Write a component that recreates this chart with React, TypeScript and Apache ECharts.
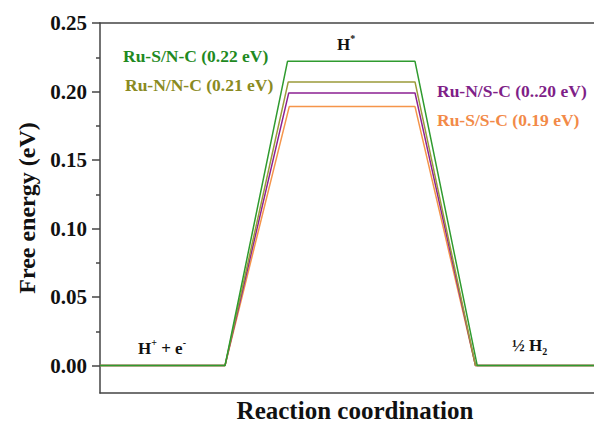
import React, { useEffect, useRef } from 'react';
import * as echarts from 'echarts';

// Series drawn from back to front (green on top)
const seriesNames = ['Ru-S/S-C', 'Ru-N/S-C', 'Ru-N/N-C', 'Ru-S/N-C'];
const seriesColors = ['#f5954a', '#8c2192', '#9b9b3a', '#2f9b2f'];
const hStarEnergy = [0.189, 0.199, 0.207, 0.222];
const rampStartX = [1.0, 1.0, 1.0, 1.0];
const rampTopX = [1.514, 1.51, 1.506, 1.5];
const plateauEndX = [2.52, 2.52, 2.52, 2.52];
const rampEndX = [3.004, 3.004, 3.004, 3.018];
const startX = 0;
const finalX = 3.952;

const yMin = -0.02;
const yMax = 0.25;
const yTicks = [0, 0.05, 0.1, 0.15, 0.2, 0.25];
const yMinorTicks = [0.025, 0.075, 0.125, 0.175, 0.225];

const annotationTexts = [
  'Ru-S/N-C (0.22 eV)',
  'Ru-N/N-C (0.21 eV)',
  'Ru-N/S-C (0..20 eV)',
  'Ru-S/S-C (0.19 eV)',
];
const annotationColors = ['#1f8a1f', '#8a8a22', '#7f1f88', '#f28a48'];

const FONT = '"Liberation Serif", "Times New Roman", serif';

export default function App() {
  const ref = useRef<HTMLDivElement>(null);

  useEffect(() => {
    if (!ref.current) return;
    const chart = echarts.init(ref.current, undefined, { renderer: 'svg' });

    const series = seriesNames.map((name, i) => ({
      name,
      type: 'line',
      showSymbol: false,
      symbol: 'none',
      xAxisIndex: 0,
      yAxisIndex: 0,
      z: 2 + i,
      lineStyle: { color: seriesColors[i], width: 1.5 },
      itemStyle: { color: seriesColors[i] },
      data: [
        [startX, 0],
        [rampStartX[i], 0],
        [rampTopX[i], hStarEnergy[i]],
        [plateauEndX[i], hStarEnergy[i]],
        [rampEndX[i], 0],
        [finalX, 0],
      ],
    }));

    const annoFont = (size: number) => ({
      fontFamily: FONT,
      fontWeight: 'bold',
      fontSize: size,
    });

    const annoPos = [
      [123, 56],
      [125, 85],
      [437, 91],
      [437, 120],
    ];

    const graphics: any[] = annotationTexts.map((t, i) => ({
      type: 'text',
      x: annoPos[i][0],
      y: annoPos[i][1],
      z: 100,
      style: {
        text: t,
        fill: annotationColors[i],
        ...annoFont(17.5),
        align: 'left',
        verticalAlign: 'middle',
      },
    }));

    const richBase = {
      b: { ...annoFont(17), fill: '#111', lineHeight: 22, verticalAlign: 'middle' },
      sup: { ...annoFont(10), fill: '#111', lineHeight: 10, verticalAlign: 'top' },
      sub: { ...annoFont(10), fill: '#111', lineHeight: 10, verticalAlign: 'bottom' },
    };

    graphics.push(
      {
        type: 'text',
        x: 337,
        y: 44,
        z: 100,
        style: {
          text: '{b|H}{sup|*}',
          rich: richBase,
          align: 'left',
          verticalAlign: 'middle',
          fill: '#111',
        },
      },
      {
        type: 'text',
        x: 138,
        y: 348,
        z: 100,
        style: {
          text: '{b|H}{sup|+}{b| + e}{sup|-}',
          rich: richBase,
          align: 'left',
          verticalAlign: 'middle',
          fill: '#111',
        },
      },
      {
        type: 'text',
        x: 512,
        y: 345,
        z: 100,
        style: {
          text: '{b|½ H}{sub|2}',
          rich: richBase,
          align: 'left',
          verticalAlign: 'middle',
          fill: '#111',
        },
      }
    );

    chart.setOption({
      animation: false,
      backgroundColor: '#ffffff',
      grid: { left: 100, top: 23, right: 0, bottom: 33, containLabel: false },
      xAxis: [
        {
          type: 'value',
          position: 'bottom',
          min: startX,
          max: finalX,
          name: 'Reaction coordination',
          nameLocation: 'middle',
          nameGap: 5,
          nameTextStyle: {
            fontFamily: FONT,
            fontWeight: 'bold',
            fontSize: 25,
            color: '#111',
            padding: [0, 0, 0, 16],
          },
          axisLine: { show: true, onZero: false, lineStyle: { color: '#444', width: 1.5 } },
          axisTick: { show: false },
          axisLabel: { show: false },
          splitLine: { show: false },
        },
        {
          type: 'value',
          position: 'top',
          min: startX,
          max: finalX,
          axisLine: { show: true, onZero: false, lineStyle: { color: '#444', width: 1.5 } },
          axisTick: { show: false },
          axisLabel: { show: false },
          splitLine: { show: false },
        },
      ],
      yAxis: [
        {
          type: 'value',
          position: 'left',
          min: yMin,
          max: yMax,
          name: 'Free energy (eV)',
          nameLocation: 'middle',
          nameGap: 60,
          nameTextStyle: { fontFamily: FONT, fontWeight: 'bold', fontSize: 24, color: '#111' },
          axisLine: { show: true, onZero: false, lineStyle: { color: '#444', width: 1.5 } },
          axisTick: {
            show: true,
            inside: false,
            length: 8,
            customValues: yTicks,
            lineStyle: { color: '#444', width: 1.5 },
          },
          axisLabel: {
            show: true,
            margin: 13,
            customValues: yTicks,
            formatter: (v: number) => v.toFixed(2),
            fontFamily: FONT,
            fontWeight: 'bold',
            fontSize: 21,
            color: '#111',
          },
          splitLine: { show: false },
        },
        {
          type: 'value',
          position: 'left',
          min: yMin,
          max: yMax,
          axisLine: { show: false },
          axisTick: {
            show: true,
            inside: false,
            length: 4,
            customValues: yMinorTicks,
            lineStyle: { color: '#444', width: 1.5 },
          },
          axisLabel: { show: false },
          splitLine: { show: false },
        },
      ],
      series,
      graphic: graphics,
    });

    return () => {
      chart.dispose();
    };
  }, []);

  return (
    <div
      ref={ref}
      style={{ position: 'fixed', left: 0, top: 0, width: 594, height: 428, background: '#fff' }}
    />
  );
}
